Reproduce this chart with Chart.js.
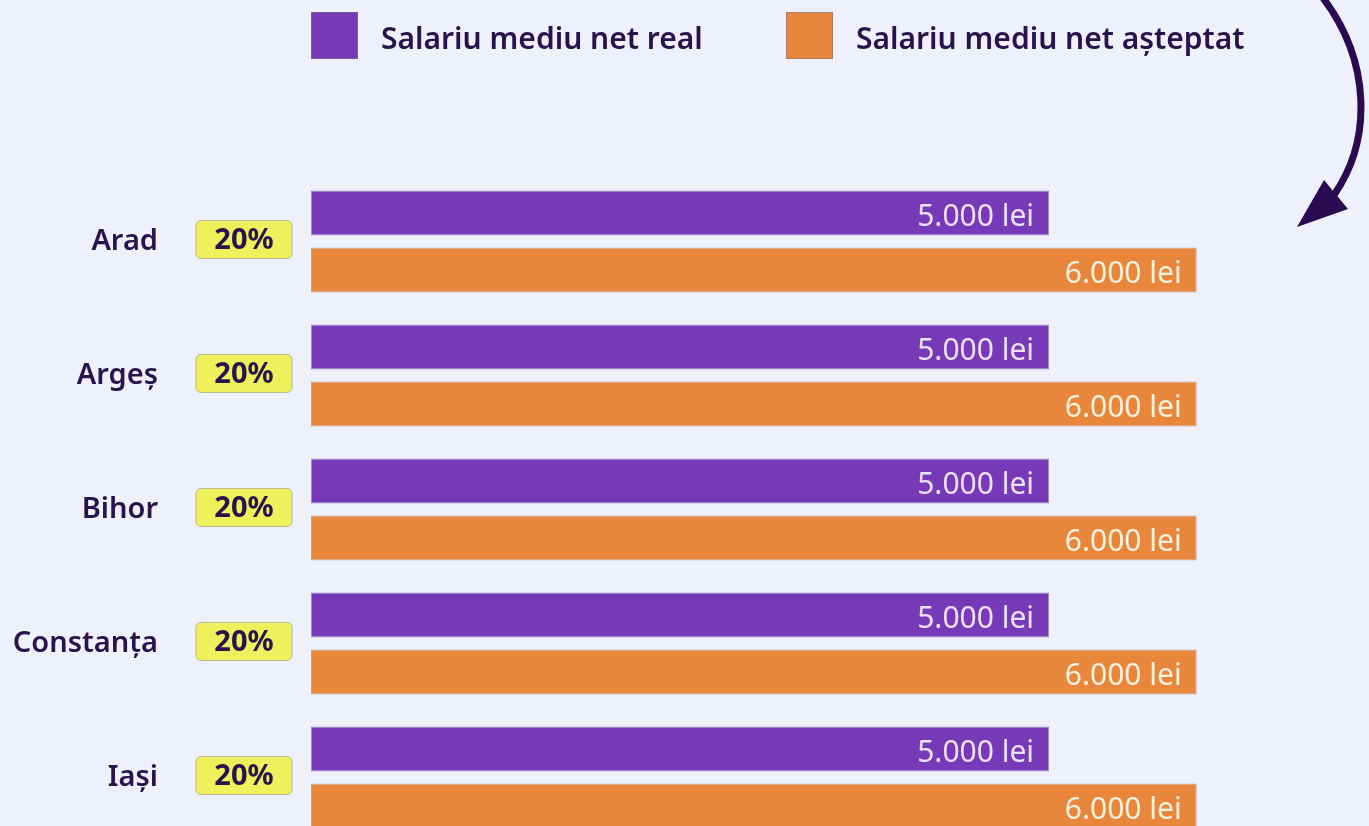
<!DOCTYPE html>
<html>
<head>
<meta charset="utf-8">
<script src="https://cdn.jsdelivr.net/npm/chart.js@4"></script>
<style>
  html, body { margin: 0; padding: 0; background: #eef0fc; overflow: hidden; }
  #chart { position: absolute; left: 0; top: 0; }
</style>
</head>
<body>
<canvas id="chart" width="1369" height="870"></canvas>
<script>
const categories = ["Arad", "Argeș", "Bihor", "Constanța", "Iași"];
const realSalary = [5000, 5000, 5000, 5000, 5000];
const expectedSalary = [6000, 6000, 6000, 6000, 6000];
const gapPercent = [20, 20, 20, 20, 20];
const seriesNames = ["Salariu mediu net real", "Salariu mediu net așteptat"];

const DARK = "#28134b";
const FONT = "'Noto Sans', 'Open Sans', sans-serif";

function lei(v) {
  return String(v).replace(/\B(?=(\d{3})+(?!\d))/g, ".") + " lei";
}

// etichete valori, badge-uri, legenda si sageata
const decor = {
  id: "decor",
  afterDatasetsDraw(chart) {
    const ctx = chart.ctx;
    const textColors = ["#ecdff9", "#fff1dc"];
    ctx.save();
    ctx.font = "400 30px " + FONT;
    ctx.textAlign = "right";
    ctx.textBaseline = "middle";
    chart.data.datasets.forEach((ds, di) => {
      const meta = chart.getDatasetMeta(di);
      ctx.fillStyle = textColors[di];
      meta.data.forEach((bar, i) => {
        ctx.fillText(lei(ds.data[i]), bar.x - 15, bar.y + 4);
      });
    });
    ctx.restore();
  },
  afterDraw(chart) {
    const ctx = chart.ctx;
    const yScale = chart.scales.y;
    ctx.save();

    // badge-uri procent
    categories.forEach((c, i) => {
      const cy = yScale.getPixelForValue(i) - 2;
      const x = 196, w = 96, h = 38;
      ctx.beginPath();
      ctx.roundRect(x, cy - h / 2, w, h, 5);
      ctx.fillStyle = "#eef05c";
      ctx.fill();
      ctx.strokeStyle = "rgba(150,150,120,0.6)";
      ctx.lineWidth = 1;
      ctx.stroke();
      ctx.fillStyle = DARK;
      ctx.font = "700 29px " + FONT;
      ctx.textAlign = "center";
      ctx.textBaseline = "middle";
      ctx.fillText(gapPercent[i] + "%", x + w / 2, cy + 1);
    });

    // legenda
    const legendX = [311, 786];
    chart.data.datasets.forEach((ds, di) => {
      const x = legendX[di];
      ctx.fillStyle = ds.backgroundColor;
      ctx.fillRect(x, 12, 47, 47);
      ctx.strokeStyle = "rgba(120,120,140,0.6)";
      ctx.lineWidth = 1;
      ctx.strokeRect(x + 0.5, 12.5, 46, 46);
      ctx.fillStyle = DARK;
      ctx.font = "600 30px " + FONT;
      ctx.textAlign = "left";
      ctx.textBaseline = "middle";
      ctx.fillText(ds.label, x + 70, 40);
    });

    // sageata curbata
    ctx.strokeStyle = "#2a0a50";
    ctx.lineWidth = 7;
    ctx.beginPath();
    ctx.moveTo(1320, -6);
    ctx.bezierCurveTo(1372, 60, 1372, 140, 1334, 195);
    ctx.stroke();
    ctx.fillStyle = "#2a0a50";
    ctx.beginPath();
    ctx.moveTo(1297, 227);
    ctx.lineTo(1324, 180);
    ctx.lineTo(1348, 209);
    ctx.closePath();
    ctx.fill();
    ctx.restore();
  }
};

new Chart(document.getElementById("chart"), {
  type: "bar",
  data: {
    labels: categories,
    datasets: [
      {
        label: seriesNames[0],
        data: realSalary,
        backgroundColor: "#763ab9",
        borderColor: "rgba(90,70,120,0.55)",
        borderWidth: 1,
        borderSkipped: false,
        categoryPercentage: 0.851,
        barPercentage: 0.79
      },
      {
        label: seriesNames[1],
        data: expectedSalary,
        backgroundColor: "#e8873c",
        borderColor: "rgba(130,100,80,0.55)",
        borderWidth: 1,
        borderSkipped: false,
        categoryPercentage: 0.851,
        barPercentage: 0.79
      }
    ]
  },
  options: {
    indexAxis: "y",
    responsive: false,
    animation: false,
    layout: { padding: { top: 174.5, bottom: 25.5, left: 0, right: 24.7 } },
    plugins: {
      legend: { display: false },
      tooltip: { enabled: false }
    },
    scales: {
      x: { display: false, min: 0, max: 7000 },
      y: {
        grid: { display: false, drawTicks: false },
        border: { display: false },
        ticks: {
          padding: 153,
          color: DARK,
          font: { family: FONT, size: 29, weight: "600" }
        },
        afterFit(scale) {
          scale.width = 311;
          // padding-ul ticks-urilor nu trebuie sa impinga zona graficului
          scale.paddingTop = 0;
          scale.paddingBottom = 0;
        }
      }
    }
  },
  plugins: [decor]
});
</script>
</body>
</html>
